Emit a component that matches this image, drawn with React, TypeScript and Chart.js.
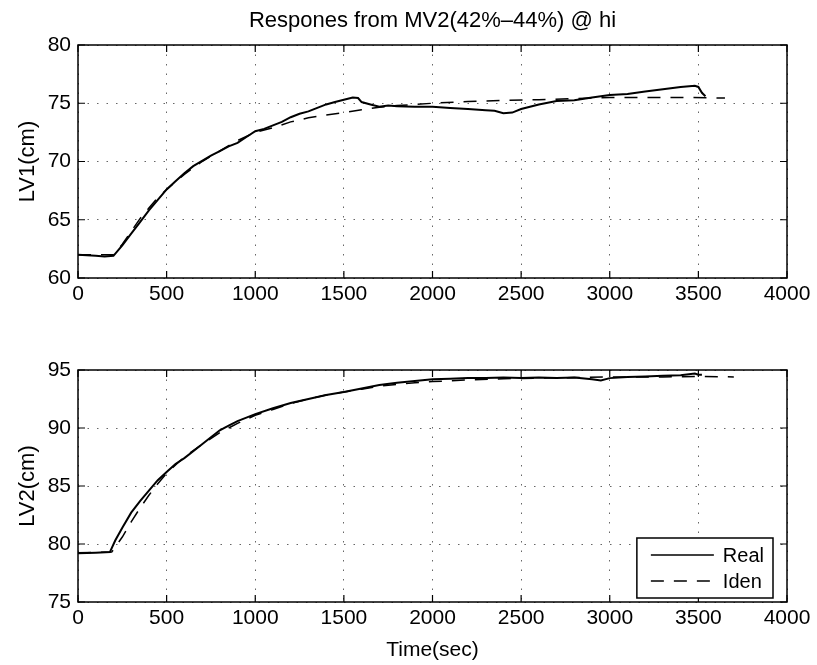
import React, { useEffect, useRef } from "react";
import { Chart, registerables } from "chart.js";

Chart.register(...registerables);

const FONT = "'Liberation Sans', Arial, Helvetica, sans-serif";

// ---------- text ----------
const TITLE = "Respones from MV2(42%–44%) @ hi";
const X_TITLE = "Time(sec)";
const Y1_TITLE = "LV1(cm)";
const Y2_TITLE = "LV2(cm)";
const SERIES_NAMES = ["Real", "Iden"];

// ---------- axes ----------
const X_MIN = 0;
const X_MAX = 4000;
const X_STEP = 500;
const Y1_MIN = 60;
const Y1_MAX = 80;
const Y2_MIN = 75;
const Y2_MAX = 95;
const Y_STEP = 5;

// ---------- LV1 (top) ----------
const lv1RealTime = [0, 100, 150, 200, 250, 300, 350, 400, 450, 500, 550, 600, 650, 700, 750, 800, 850, 900, 950, 1000, 1050, 1100, 1150, 1200, 1250, 1300, 1350, 1400, 1450, 1500, 1550, 1580, 1600, 1650, 1700, 1750, 1800, 1900, 2000, 2100, 2200, 2300, 2350, 2400, 2450, 2500, 2550, 2600, 2700, 2800, 2900, 3000, 3100, 3200, 3300, 3400, 3480, 3500, 3520, 3540];
const lv1RealValue = [62.0, 61.9, 61.85, 61.9, 62.8, 63.8, 64.8, 65.8, 66.7, 67.6, 68.3, 69.0, 69.6, 70.05, 70.5, 70.9, 71.3, 71.6, 72.1, 72.6, 72.8, 73.1, 73.4, 73.8, 74.1, 74.3, 74.6, 74.9, 75.1, 75.3, 75.5, 75.45, 75.1, 74.9, 74.7, 74.8, 74.75, 74.7, 74.7, 74.6, 74.5, 74.4, 74.35, 74.15, 74.2, 74.5, 74.7, 74.9, 75.2, 75.25, 75.5, 75.7, 75.8, 76.0, 76.2, 76.4, 76.5, 76.4, 75.9, 75.6];

const lv1IdenTime = [0, 100, 200, 250, 300, 350, 400, 450, 500, 600, 700, 800, 900, 1000, 1100, 1200, 1300, 1400, 1500, 1600, 1700, 1800, 1900, 2000, 2200, 2400, 2600, 2800, 3000, 3200, 3400, 3650];
const lv1IdenValue = [62.0, 62.0, 62.0, 62.9, 64.0, 65.1, 66.0, 66.9, 67.6, 68.9, 70.0, 70.9, 71.8, 72.5, 72.9, 73.4, 73.75, 74.0, 74.2, 74.45, 74.65, 74.8, 74.9, 75.0, 75.15, 75.25, 75.3, 75.4, 75.5, 75.5, 75.5, 75.45];

// ---------- LV2 (bottom) ----------
const lv2RealTime = [0, 100, 180, 210, 250, 300, 350, 400, 450, 500, 550, 600, 650, 700, 750, 800, 850, 900, 950, 1000, 1100, 1200, 1300, 1400, 1500, 1600, 1700, 1800, 1900, 2000, 2100, 2200, 2300, 2400, 2500, 2600, 2700, 2800, 2900, 2950, 3000, 3100, 3200, 3300, 3400, 3480, 3500, 3520];
const lv2RealValue = [79.2, 79.25, 79.3, 80.3, 81.4, 82.7, 83.7, 84.6, 85.5, 86.2, 86.9, 87.4, 88.0, 88.6, 89.2, 89.8, 90.2, 90.6, 90.9, 91.2, 91.7, 92.15, 92.5, 92.85, 93.1, 93.4, 93.7, 93.9, 94.05, 94.2, 94.25, 94.3, 94.3, 94.35, 94.3, 94.35, 94.3, 94.35, 94.2, 94.1, 94.3, 94.4, 94.45, 94.5, 94.55, 94.7, 94.6, 94.6];

const lv2IdenTime = [0, 190, 250, 300, 350, 400, 450, 500, 600, 700, 800, 900, 1000, 1100, 1200, 1300, 1400, 1500, 1600, 1700, 1800, 1900, 2000, 2200, 2400, 2600, 2800, 3000, 3300, 3500, 3700];
const lv2IdenValue = [79.25, 79.3, 80.6, 81.9, 83.1, 84.2, 85.2, 86.1, 87.5, 88.6, 89.6, 90.4, 91.1, 91.6, 92.1, 92.5, 92.85, 93.1, 93.35, 93.6, 93.75, 93.9, 94.0, 94.15, 94.25, 94.3, 94.35, 94.4, 94.4, 94.45, 94.4];

const toPoints = (xs: number[], ys: number[]) => xs.map((x, i) => ({ x, y: ys[i] }));

// frame + inward tick marks (MATLAB style box)
const framePlugin = {
  id: "matlabFrame",
  afterDraw(chart: any) {
    const { ctx, chartArea: a, scales } = chart;
    ctx.save();
    ctx.strokeStyle = "#000";
    ctx.lineWidth = 1.5;
    ctx.setLineDash([]);
    ctx.strokeRect(a.left, a.top, a.right - a.left, a.bottom - a.top);
    const len = 7;
    ctx.lineWidth = 1.2;
    ctx.beginPath();
    scales.x.ticks.forEach((t: any) => {
      const px = scales.x.getPixelForValue(t.value);
      ctx.moveTo(px, a.bottom);
      ctx.lineTo(px, a.bottom - len);
      ctx.moveTo(px, a.top);
      ctx.lineTo(px, a.top + len);
    });
    scales.y.ticks.forEach((t: any) => {
      const py = scales.y.getPixelForValue(t.value);
      ctx.moveTo(a.left, py);
      ctx.lineTo(a.left + len, py);
      ctx.moveTo(a.right, py);
      ctx.lineTo(a.right - len, py);
    });
    ctx.stroke();
    ctx.restore();
  },
};

// boxed legend inside the plot, lower right
const boxLegendPlugin = {
  id: "boxLegend",
  afterDraw(chart: any, _args: any, opts: any) {
    if (!opts || !opts.display) return;
    const { ctx, chartArea: a } = chart;
    ctx.save();
    ctx.font = `20px ${FONT}`;
    const items = chart.data.datasets.map((ds: any) => ({
      label: ds.label,
      dash: ds.borderDash || [],
      width: ds.borderWidth,
    }));
    const textW = Math.max(...items.map((it: any) => ctx.measureText(it.label).width));
    const padL = 14, sample = 63, gap = 9, padR = 9, rowH = 26, padT = 17;
    const w = padL + sample + gap + textW + padR;
    const h = 60;
    const right = a.right - 14;
    const bottom = a.bottom - 4;
    const left = right - w;
    const top = bottom - h;
    ctx.fillStyle = "#fff";
    ctx.fillRect(left, top, w, h);
    ctx.strokeStyle = "#000";
    ctx.lineWidth = 1.5;
    ctx.strokeRect(left, top, w, h);
    items.forEach((it: any, i: number) => {
      const y = top + padT + i * rowH;
      ctx.setLineDash(it.dash);
      ctx.lineWidth = 1.4;
      ctx.beginPath();
      ctx.moveTo(left + padL, y);
      ctx.lineTo(left + padL + sample, y);
      ctx.stroke();
      ctx.setLineDash([]);
      ctx.fillStyle = "#000";
      ctx.textBaseline = "middle";
      ctx.textAlign = "left";
      ctx.fillText(it.label, left + padL + sample + gap, y + 1);
    });
    ctx.restore();
  },
};

function makeConfig(p: {
  real: { x: number; y: number }[];
  iden: { x: number; y: number }[];
  yMin: number;
  yMax: number;
  yTitle: string;
  title?: string;
  xTitle?: string;
  padTop: number;
  xAxisHeight: number;
  legend: boolean;
}): any {
  return {
    type: "line",
    data: {
      datasets: [
        {
          label: SERIES_NAMES[0],
          data: p.real,
          borderColor: "#000",
          borderWidth: 2,
          pointRadius: 0,
          tension: 0,
          fill: false,
        },
        {
          label: SERIES_NAMES[1],
          data: p.iden,
          borderColor: "#000",
          borderWidth: 1.5,
          borderDash: [13, 10],
          pointRadius: 0,
          tension: 0,
          fill: false,
        },
      ],
    },
    options: {
      responsive: false,
      animation: false,
      devicePixelRatio: 1,
      events: [],
      layout: { padding: { top: p.padTop, right: 30, bottom: 0, left: 0 } },
      plugins: {
        legend: { display: false },
        tooltip: { enabled: false },
        title: p.title
          ? {
              display: true,
              text: p.title,
              fullSize: false,
              color: "#000",
              font: { family: FONT, size: 22, weight: "normal" },
              padding: { top: 8, bottom: 10.6 },
            }
          : { display: false },
        boxLegend: { display: p.legend },
      },
      scales: {
        x: {
          type: "linear",
          min: X_MIN,
          max: X_MAX,
          afterFit: (s: any) => {
            s.height = p.xAxisHeight;
          },
          ticks: {
            stepSize: X_STEP,
            autoSkip: false,
            maxRotation: 0,
            padding: 4,
            color: "#000",
            font: { family: FONT, size: 21 },
            callback: (v: any) => String(v),
          },
          grid: { color: "rgba(0,0,0,0.6)", lineWidth: 1, drawTicks: false },
          border: { display: false, dash: [1.5, 8] },
          title: p.xTitle
            ? {
                display: true,
                text: p.xTitle,
                color: "#000",
                font: { family: FONT, size: 21 },
                padding: { top: 0, bottom: 2.4 },
              }
            : { display: false },
        },
        y: {
          type: "linear",
          min: p.yMin,
          max: p.yMax,
          afterFit: (s: any) => {
            s.width = 78;
          },
          ticks: {
            stepSize: Y_STEP,
            padding: 7,
            color: "#000",
            font: { family: FONT, size: 21 },
            callback: (v: any) => String(v),
          },
          grid: { color: "rgba(0,0,0,0.6)", lineWidth: 1, drawTicks: false },
          border: { display: false, dash: [1.5, 8] },
          title: {
            display: true,
            text: p.yTitle,
            color: "#000",
            font: { family: FONT, size: 22 },
            padding: { top: 15, bottom: 0 },
          },
        },
      },
    },
    plugins: [framePlugin, boxLegendPlugin],
  };
}

function PlotCanvas(props: { height: number; config: () => any }) {
  const ref = useRef<HTMLCanvasElement | null>(null);
  useEffect(() => {
    if (!ref.current) return;
    const chart = new Chart(ref.current, props.config());
    return () => chart.destroy();
  }, []);
  return (
    <canvas
      ref={ref}
      width={817}
      height={props.height}
      style={{ display: "block", width: 817, height: props.height }}
    />
  );
}

export default function App() {
  return (
    <div
      style={{
        position: "absolute",
        left: 0,
        top: 0,
        width: 817,
        height: 665,
        background: "#fff",
      }}
    >
      <PlotCanvas
        height={320}
        config={() =>
          makeConfig({
            real: toPoints(lv1RealTime, lv1RealValue),
            iden: toPoints(lv1IdenTime, lv1IdenValue),
            yMin: Y1_MIN,
            yMax: Y1_MAX,
            yTitle: Y1_TITLE,
            title: TITLE,
            padTop: 0,
            xAxisHeight: 42,
            legend: false,
          })
        }
      />
      <PlotCanvas
        height={345}
        config={() =>
          makeConfig({
            real: toPoints(lv2RealTime, lv2RealValue),
            iden: toPoints(lv2IdenTime, lv2IdenValue),
            yMin: Y2_MIN,
            yMax: Y2_MAX,
            yTitle: Y2_TITLE,
            xTitle: X_TITLE,
            padTop: 50,
            xAxisHeight: 63,
            legend: true,
          })
        }
      />
    </div>
  );
}
